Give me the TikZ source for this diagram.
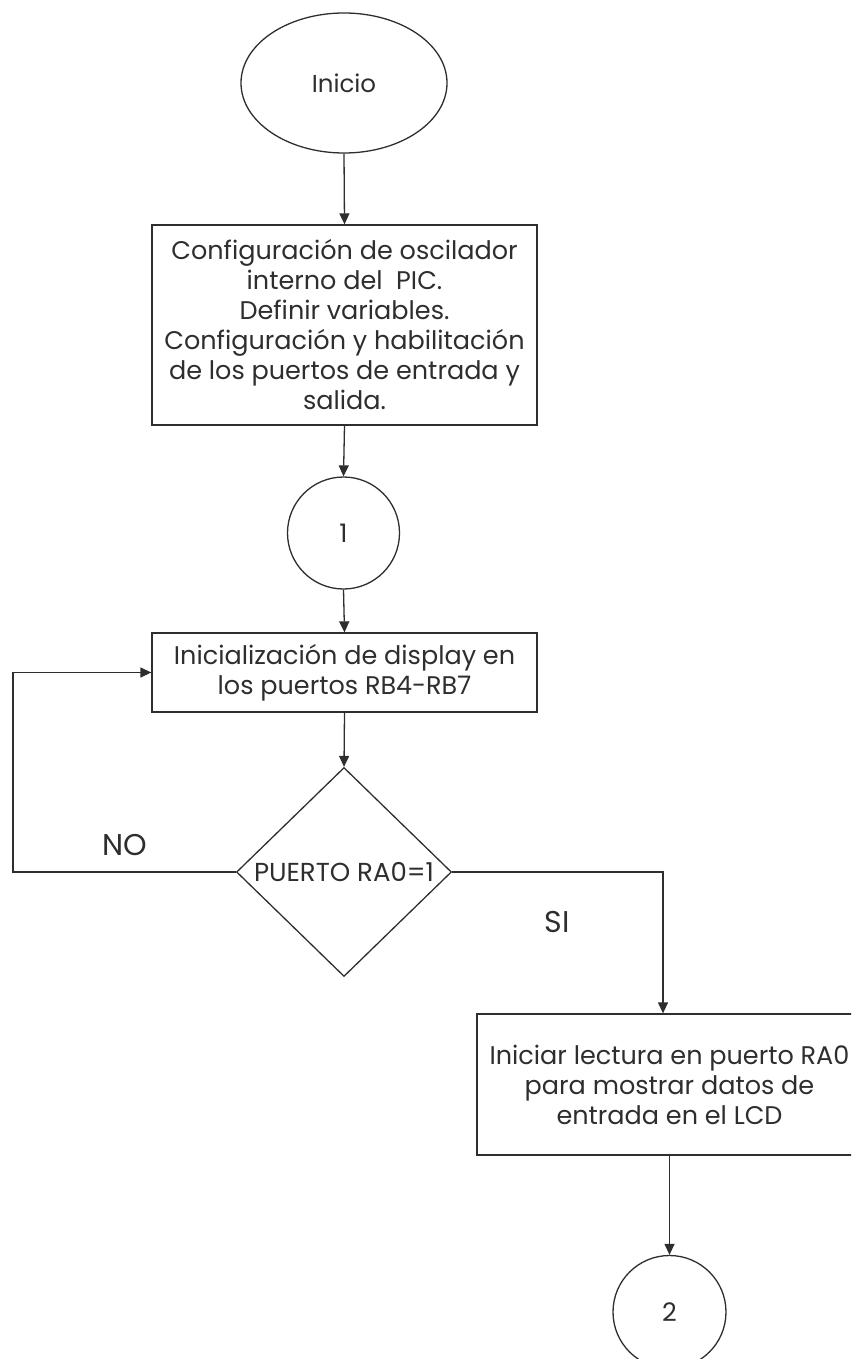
\documentclass[tikz,border=0pt]{standalone}
\usepackage{fontspec}
\setmainfont{Poppins}
\usetikzlibrary{shapes.geometric,arrows.meta}
\definecolor{ink}{HTML}{2E2E2E}
\begin{document}
\begin{tikzpicture}[x=1pt,y=-1pt,
  every node/.style={font=\fontsize{25.5}{30}\selectfont, text=ink, inner sep=0pt},
  shapeline/.style={draw=ink, line width=1.3pt},
  procbox/.style={shapeline, rectangle, align=center},
  connector/.style={circle, shapeline, minimum size=112pt},
  flow/.style={draw=ink, line width=1.3pt, -{Triangle[length=11pt,width=10pt]}},
  branchlabel/.style={font=\fontsize{30}{30}\selectfont}]
\useasboundingbox (0,0) rectangle (851,1359);
\clip (0,0) rectangle (851,1359);

% start terminal
\node[shapeline, ellipse, minimum width=206pt, minimum height=140pt,
      font=\fontsize{24.5}{30}\selectfont] (inicio) at (344,83) {Inicio};

% configuration block
\node[procbox, minimum width=385pt, minimum height=200pt] (conf) at (344.5,325)
  {Configuración de oscilador\\interno del \ PIC.\\Definir variables.\\Configuración y habilitación\\de los puertos de entrada y\\salida.};

% connector 1
\node[connector] (c1) at (343.5,533) {1};

% display initialisation
\node[procbox, minimum width=385pt, minimum height=79pt] (disp) at (344.5,672.5)
  {Inicialización de display en\\los puertos RB4-RB7};

% decision
\node[shapeline, diamond, minimum width=215pt, minimum height=209pt, aspect=1.03,
      font=\fontsize{26}{30}\selectfont] (dec) at (344,872) {PUERTO RA0=1};

% reading block (runs past the right edge of the page)
\node[procbox, minimum width=385pt, minimum height=141pt] (lect) at (669.5,1084.5)
  {Iniciar lectura en puerto RA0\\para mostrar datos de\\entrada en el LCD};

% connector 2
\node[connector, minimum size=113pt] (c2) at (669.5,1312) {2};

% branch labels
\node[branchlabel] (no) at (125,845) {NO};
\node[branchlabel] (si) at (557,922) {SI};

% flow lines
\draw[flow] (inicio.south) -- (conf.north);
\draw[flow] (conf.south) -- (c1.north);
\draw[flow] (c1.south) -- (disp.north);
\draw[flow] (disp.south) -- (dec.north);
\coordinate (loop) at (13,872);
\draw[flow] (dec.west) -- (loop) |- (disp.west);
\coordinate (sientry) at ([xshift=-6.5pt]lect.north);
\draw[flow] (dec.east) -| (sientry);
\draw[flow] (lect.south) -- (c2.north);
\end{tikzpicture}
\end{document}
